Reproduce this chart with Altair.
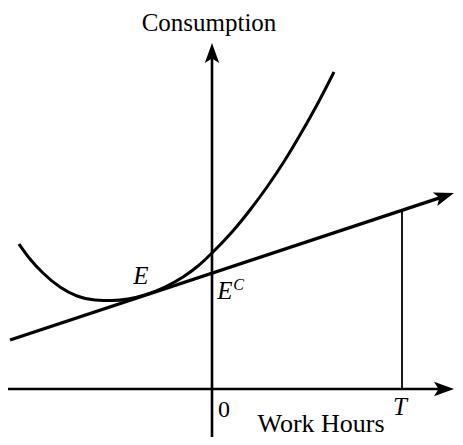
import math
import altair as alt
import pandas as pd

# ---- data (origin = where the axes cross) ----
# indifference curve
curve_x = [-19.3, -18.2, -16.9, -15.2, -13.5, -11.7, -10.0, -8.4, -6.7, -4.7,
           -2.9, -1.4, 0.0, 2.0, 3.8, 5.5, 7.3, 8.8, 10.6, 12.2]
curve_y = [14.5, 13.0, 11.6, 10.2, 9.3, 8.9, 8.85, 9.0, 9.4, 10.2,
           11.2, 12.3, 13.6, 15.7, 17.9, 20.2, 22.9, 25.4, 28.6, 31.7]

# budget line (start, arrow tip)
budget_x = [-20.2, 24.2]
budget_y = [4.9, 19.6]

# axes extents
haxis_x = [-20.7, 24.2]
vaxis_y = [-5.5, 34.6]

# time endowment T
T_value = 19.0

# labels
label_text = ["Consumption", "Work Hours", "0"]
label_x = [-0.3, 10.9, 1.2]
label_y = [35.85, -4.3, -2.8]
label_size = [25, 26, 24]
ital_text = ["E", "E", "T"]
ital_x = [-7.1, 1.3, 18.8]
ital_y = [10.5, 9.0, -2.6]
sup_text = ["C"]
sup_x = [2.65]
sup_y = [9.9]

XDOM = [-20.4, 24.3]
YDOM = [-4.8, 38.1]
W, H = 447, 429

xs = alt.Scale(domain=XDOM, nice=False, zero=False)
ys = alt.Scale(domain=YDOM, nice=False, zero=False)

def X(f="x"):
    return alt.X(f"{f}:Q", scale=xs, axis=None)

def Y(f="y"):
    return alt.Y(f"{f}:Q", scale=ys, axis=None)

slope = (budget_y[1] - budget_y[0]) / (budget_x[1] - budget_x[0])
theta = math.atan(slope)
back = 1.2  # shorten lines so arrowhead covers the end

axes_df = pd.DataFrame({
    "x": [haxis_x[0], 0.0],
    "y": [0.0, vaxis_y[0]],
    "x2": [haxis_x[1] - back, 0.0],
    "y2": [0.0, vaxis_y[1] - back],
})
budget_df = pd.DataFrame({
    "x": [budget_x[0]], "y": [budget_y[0]],
    "x2": [budget_x[1] - back * math.cos(theta)],
    "y2": [budget_y[1] - back * math.sin(theta)],
})
T_top = budget_y[0] + (T_value - budget_x[0]) * slope
t_df = pd.DataFrame({"x": [T_value], "y": [0.0], "x2": [T_value], "y2": [T_top]})

curve_df = pd.DataFrame({"x": curve_x, "y": curve_y})

arrow_df = pd.DataFrame({
    "x": [haxis_x[1], 0.0, budget_x[1]],
    "y": [0.0, vaxis_y[1], budget_y[1]],
    "angle": [0.0, 270.0, (360.0 - math.degrees(theta)) % 360],
})

lab_df = pd.DataFrame({"t": label_text, "x": label_x, "y": label_y, "s": label_size})
ital_df = pd.DataFrame({"t": ital_text, "x": ital_x, "y": ital_y})
sup_df = pd.DataFrame({"t": sup_text, "x": sup_x, "y": sup_y})

INK = "#000000"
FONT = "Liberation Serif"

axes = alt.Chart(axes_df).mark_rule(color=INK, strokeWidth=2.6).encode(
    x=X(), y=Y(), x2="x2:Q", y2="y2:Q")
budget = alt.Chart(budget_df).mark_rule(color=INK, strokeWidth=3.4).encode(
    x=X(), y=Y(), x2="x2:Q", y2="y2:Q")
tline = alt.Chart(t_df).mark_rule(color=INK, strokeWidth=1.8).encode(
    x=X(), y=Y(), x2="x2:Q", y2="y2:Q")
curve = alt.Chart(curve_df).mark_line(color=INK, strokeWidth=3.0,
                                      interpolate="monotone").encode(
    x=X(), y=Y(), order="x:Q")

arrows = alt.Chart(arrow_df).mark_point(
    shape="M0,0 L-2,-0.72 L-1.55,0 L-2,0.72 Z",
    filled=True, size=400, color=INK, opacity=1, strokeWidth=0).encode(
    x=X(), y=Y(), angle=alt.Angle("angle:Q", scale=None))

labels = alt.Chart(lab_df).mark_text(
    font=FONT, color=INK, align="center", baseline="alphabetic").encode(
    x=X(), y=Y(), text="t:N", size=alt.Size("s:Q", scale=None, legend=None))
ital = alt.Chart(ital_df).mark_text(
    font=FONT, fontSize=25, fontStyle="italic", color=INK, align="center",
    baseline="alphabetic").encode(x=X(), y=Y(), text="t:N")
sup = alt.Chart(sup_df).mark_text(
    font=FONT, fontSize=16, fontStyle="italic", color=INK, align="center",
    baseline="alphabetic").encode(x=X(), y=Y(), text="t:N")

chart = alt.layer(axes, tline, curve, budget, arrows, labels, ital, sup).properties(
    width=W, height=H, padding=0, autosize=alt.AutoSizeParams(type="none"),
    background="white",
).configure_view(stroke=None)

chart.save("out.html", embed_options={"renderer": "svg", "actions": False})
